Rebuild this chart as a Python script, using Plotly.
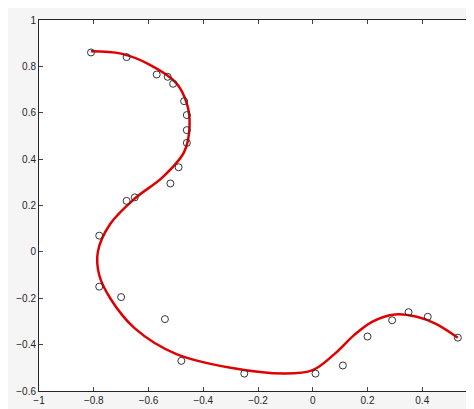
import plotly.graph_objects as go

# sample points
pts_x = [-0.81, -0.68, -0.57, -0.53, -0.51, -0.47, -0.46, -0.46, -0.46, -0.49, -0.52,
         -0.65, -0.68, -0.78, -0.78, -0.70, -0.54, -0.48, -0.25, 0.01, 0.11, 0.20,
         0.29, 0.35, 0.42, 0.53]
pts_y = [0.86, 0.84, 0.765, 0.755, 0.725, 0.65, 0.59, 0.525, 0.47, 0.365, 0.295,
         0.235, 0.22, 0.07, -0.15, -0.195, -0.29, -0.47, -0.525, -0.525, -0.49, -0.365,
         -0.295, -0.26, -0.28, -0.37]

# fitted curve
fit_x = [-0.81, -0.7, -0.6, -0.5, -0.46, -0.45, -0.47, -0.55, -0.65, -0.74, -0.785,
         -0.78, -0.74, -0.65, -0.5, -0.3, -0.1, 0.0, 0.08, 0.15, 0.22, 0.3, 0.38, 0.45, 0.53]
fit_y = [0.865, 0.855, 0.81, 0.73, 0.64, 0.54, 0.43, 0.32, 0.23, 0.12, 0.0,
         -0.1, -0.2, -0.33, -0.44, -0.5, -0.525, -0.51, -0.44, -0.36, -0.3, -0.27,
         -0.28, -0.31, -0.37]

fig = go.Figure()
fig.add_trace(go.Scatter(x=fit_x, y=fit_y, mode="lines", line_shape="spline",
                         line=dict(color="#e00000", width=2.5)))
fig.add_trace(go.Scatter(x=pts_x, y=pts_y, mode="markers",
                         marker=dict(symbol="circle-open", size=7, color="#333333",
                                     line=dict(width=1))))

axis = dict(showgrid=False, zeroline=False, ticks="inside", ticklen=4,
            showline=True, linecolor="#262626", mirror="ticks", linewidth=1,
            tickfont=dict(family="Liberation Sans", size=10, color="#262626"))
fig.update_xaxes(range=[-1, 0.6], dtick=0.2, **axis)
fig.update_yaxes(range=[-0.6, 1], dtick=0.2, **axis)
fig.update_layout(width=474, height=409, showlegend=False,
                  paper_bgcolor="#f5f5f5", plot_bgcolor="white",
                  margin=dict(l=31, r=5, t=12, b=26))
fig.write_html("out.html")
